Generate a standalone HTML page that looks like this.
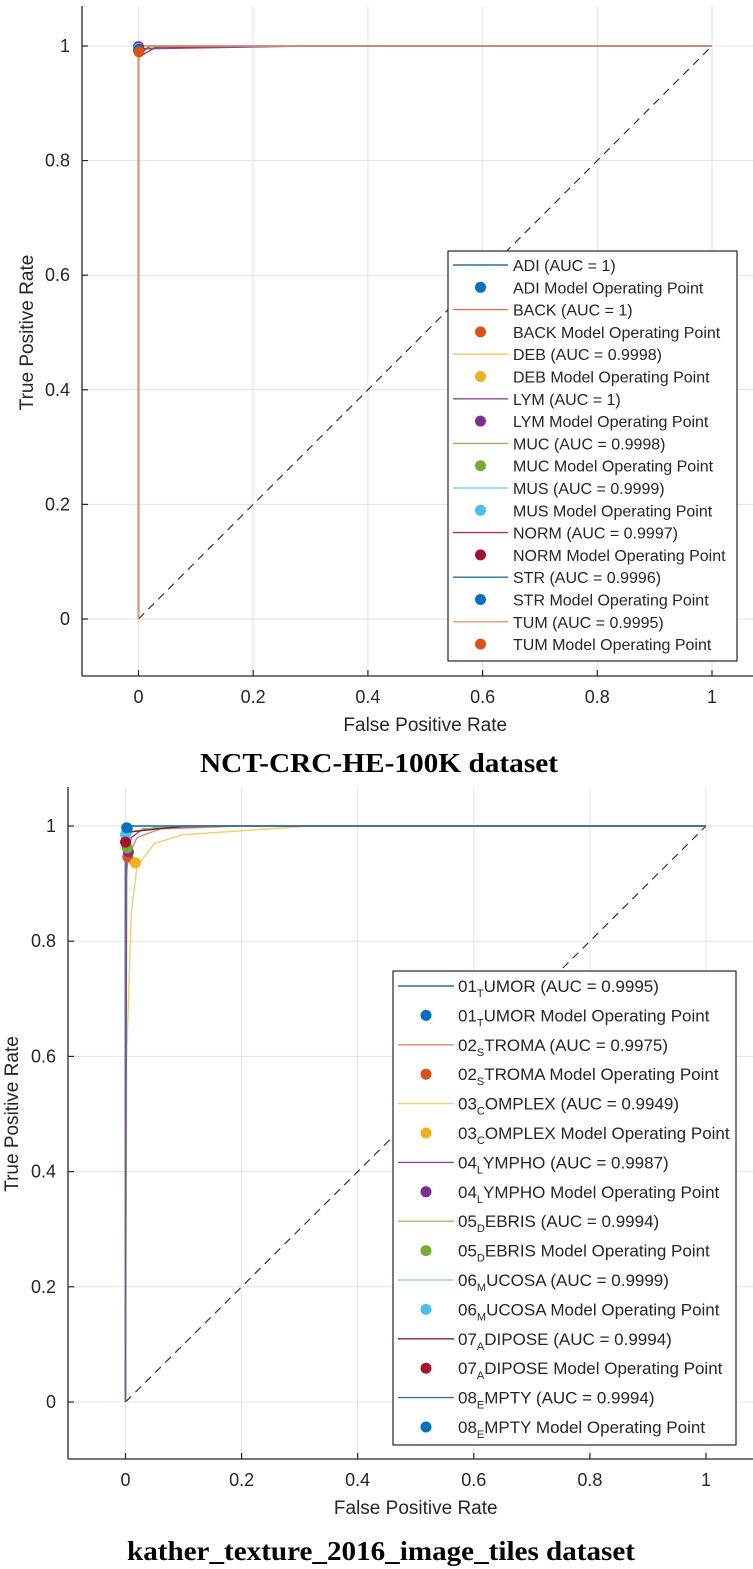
<!DOCTYPE html>
<html><head><meta charset="utf-8">
<style>
html,body{margin:0;padding:0;background:#fff;}
svg{display:block;}
text{font-family:"Liberation Sans",Arial,sans-serif;}
.cap{font-family:"Liberation Serif","Times New Roman",serif;font-weight:bold;}
</style></head>
<body>
<svg id="fig" width="753" height="1569" viewBox="0 0 753 1569" xmlns="http://www.w3.org/2000/svg"></svg>
<script>
// ---------- data: top chart (NCT-CRC-HE-100K) ----------
const topClasses = ["ADI","BACK","DEB","LYM","MUC","MUS","NORM","STR","TUM"];
const topAuc = ["1","1","0.9998","1","0.9998","0.9999","0.9997","0.9996","0.9995"];
const topFpr = [
  [0,0,0.005,1],[0,0,0.01,1],[0,0,0.02,0.32,1],[0,0,0.3,1],[0,0,0.02,1],
  [0,0,0.01,1],[0,0,0.03,0.3,1],[0,0,0.02,1],[0,0,0.01,1]];
const topTpr = [
  [0,0.995,1,1],[0,0.99,1,1],[0,0.985,0.998,1,1],[0,0.995,1,1],[0,0.985,1,1],
  [0,0.99,1,1],[0,0.98,0.998,1,1],[0,0.985,1,1],[0,0.985,1,1]];
const topOpFpr = [0,0,0.001,0,0.001,0,0.001,0,0.001];
const topOpTpr = [0.998,0.997,0.99,0.999,0.992,0.996,0.994,0.993,0.99];

// ---------- data: bottom chart (kather_texture_2016) ----------
const botPrefix = ["01","02","03","04","05","06","07","08"];
const botSub = ["T","S","C","L","D","M","A","E"];
const botRest = ["UMOR","TROMA","OMPLEX","YMPHO","EBRIS","UCOSA","DIPOSE","MPTY"];
const botAuc = ["0.9995","0.9975","0.9949","0.9987","0.9994","0.9999","0.9994","0.9994"];
const botFpr = [
  [0,0,0.01,1],
  [0,0,0.005,0.02,0.06,0.2,1],
  [0,0.002,0.01,0.02,0.05,0.1,0.32,1],
  [0,0.002,0.01,0.03,0.15,1],
  [0,0,0.01,0.05,0.12,1],
  [0,0,0.005,1],
  [0,0,0.01,0.1,1],
  [0,0,0.003,1]];
const botTpr = [
  [0,0.99,1,1],
  [0,0.9,0.95,0.98,0.995,1,1],
  [0,0.6,0.85,0.93,0.97,0.985,1,1],
  [0,0.94,0.98,0.995,1,1],
  [0,0.96,0.99,0.997,1,1],
  [0,0.99,1,1],
  [0,0.97,0.99,1,1],
  [0,0.995,1,1]];
const botOpFpr = [0.003,0.004,0.017,0.005,0.003,0,0,0.002];
const botOpTpr = [0.996,0.946,0.936,0.955,0.962,0.985,0.972,0.997];

const xTicks = [0,0.2,0.4,0.6,0.8,1];
const yTicks = [0,0.2,0.4,0.6,0.8,1];
const xTickLabels = ["0","0.2","0.4","0.6","0.8","1"];
const yTickLabels = ["0","0.2","0.4","0.6","0.8","1"];

const topColors = ["#0072BD","#D95319","#EDB120","#7E2F8E","#77AC30","#4DBEEE","#A2142F","#0072BD","#D95319"];
const botColors = ["#0072BD","#D95319","#EDB120","#7E2F8E","#77AC30","#4DBEEE","#A2142F","#0072BD"];
const lineColorsTop = ["#2a6f9e","#d9794a","#f0c44e","#8b4a98","#8db35a","#86cdee","#a23a4e","#2a6f9e","#e59a73"];
const lineColorsBot = ["#2a6f9e","#dd8a6a","#f2cf6a","#8b4a98","#9ac06c","#9ad6f2","#7b2533","#2a7a9e"];

const NS="http://www.w3.org/2000/svg";
const svg=document.getElementById('fig');
function el(tag,attrs,parent){const e=document.createElementNS(NS,tag);for(const k in attrs)e.setAttribute(k,attrs[k]);(parent||svg).appendChild(e);return e;}

function drawChart(c){
  const g=el('g',{});
  
  
  const sx=v=>c.x0+(c.x1-c.x0)*v;
  const sy=v=>c.y0+(c.y1-c.y0)*v;
  xTicks.forEach(t=>{const l=el('line',{x1:sx(t),x2:sx(t),y1:c.top,y2:c.bottom,stroke:'#e3e3e3','stroke-width':1},g);
    });
  yTicks.forEach(t=>{const l=el('line',{x1:c.left,x2:753,y1:sy(t),y2:sy(t),stroke:'#e3e3e3','stroke-width':1},g);
    });
  const d=el('line',{x1:sx(0),y1:sy(0),x2:sx(1),y2:sy(1),stroke:'#333','stroke-width':1.2,'stroke-dasharray':'8,6'},g);
  
  c.fpr.forEach((fp,i)=>{
    const pts=fp.map((f,j)=>sx(f)+','+sy(c.tpr[i][j])).join(' ');
    const p=el('polyline',{points:pts,fill:'none',stroke:c.lineColors[i],'stroke-width':1.4},g);
    
    
  });
  c.opF.forEach((f,i)=>{
    const m=el('circle',{cx:sx(f),cy:sy(c.opT[i]),r:5.5,fill:c.colors[i]},g);
    
    
  });
  const ax=el('line',{x1:c.left,x2:753,y1:c.bottom,y2:c.bottom,stroke:'#262626','stroke-width':1.3},g);
  
  const ay=el('line',{x1:c.left,x2:c.left,y1:c.top,y2:c.bottom,stroke:'#262626','stroke-width':1.3},g);
  
  xTicks.forEach((t,i)=>{
    el('line',{x1:sx(t),x2:sx(t),y1:c.bottom,y2:c.bottom-6,stroke:'#262626','stroke-width':1.2},g);
    const tx=el('text',{x:sx(t),y:c.bottom+27,'font-size':18,'text-anchor':'middle',fill:'#262626'},g);
    tx.textContent=xTickLabels[i];
    
  });
  yTicks.forEach((t,i)=>{
    el('line',{x1:c.left,x2:c.left+6,y1:sy(t),y2:sy(t),stroke:'#262626','stroke-width':1.2},g);
    const tx=el('text',{x:c.left-12,y:sy(t)+6,'font-size':18,'text-anchor':'end',fill:'#262626'},g);
    tx.textContent=yTickLabels[i];
    
  });
  const xt=el('text',{x:sx(0.5),y:c.bottom+55,'font-size':19,'text-anchor':'middle',fill:'#262626'},g);
  xt.textContent='False Positive Rate';
  
  const ycy=(sy(0)+sy(1))/2;
  const yt=el('text',{x:c.ylx,y:ycy,'font-size':19,'text-anchor':'middle',fill:'#262626',transform:'rotate(-90 '+c.ylx+' '+ycy+')'},g);
  yt.textContent='True Positive Rate';
  
  const lg=el('g',{},g);
  
  el('rect',{x:c.lg.x,y:c.lg.y,width:c.lg.w,height:c.lg.h,fill:'#fff',stroke:'#262626','stroke-width':1.2},lg);
  c.keys.forEach((k,i)=>{
    const y1=c.lg.row0+2*i*c.lg.dy, y2=y1+c.lg.dy;
    const ln=el('line',{x1:c.lg.lx1,x2:c.lg.lx2,y1:y1,y2:y1,stroke:c.lineColors[i],'stroke-width':1.4},lg);
    
    const t1=el('text',{x:c.lg.tx,y:y1+6,'font-size':c.lg.fs,fill:'#262626'},lg);
    c.label(t1,i,' (AUC = '+c.auc[i]+')');
    
    const mk=el('circle',{cx:(c.lg.lx1+c.lg.lx2)/2,cy:y2,r:5.5,fill:c.colors[i]},lg);
    
    const t2=el('text',{x:c.lg.tx,y:y2+6,'font-size':c.lg.fs,fill:'#262626'},lg);
    c.label(t2,i,' Model Operating Point');
    
  });
  const cap=el('text',{x:c.capX,y:c.capY,'font-size':27,'text-anchor':'middle',fill:'#000',class:'cap',textLength:c.capW,lengthAdjust:'spacingAndGlyphs'},g);
  cap.textContent=c.caption;
  
}

drawChart({name:'roc-chart-nct-crc',x0:138.5,x1:712,y0:619,y1:46,left:82,top:6,bottom:676,ylx:33,
  fpr:topFpr,tpr:topTpr,opF:topOpFpr,opT:topOpTpr,keys:topClasses,auc:topAuc,colors:topColors,lineColors:lineColorsTop,
  lg:{x:448,y:251,w:289,h:410,row0:265,dy:22.3,lx1:453,lx2:508,tx:513,fs:16},
  label:(t,i,s)=>{t.textContent=topClasses[i]+s;},
  caption:'NCT-CRC-HE-100K dataset',capX:379,capY:772,capW:358});

drawChart({name:'roc-chart-kather',x0:125.5,x1:706,y0:1402,y1:826,left:68,top:787,bottom:1459,ylx:18,
  fpr:botFpr,tpr:botTpr,opF:botOpFpr,opT:botOpTpr,keys:botRest,auc:botAuc,colors:botColors,lineColors:lineColorsBot,
  lg:{x:393,y:971,w:343,h:474,row0:986,dy:29.4,lx1:398,lx2:454,tx:458,fs:17},
  label:(t,i,s)=>{
    const a=document.createElementNS(NS,'tspan');a.textContent=botPrefix[i];t.appendChild(a);
    const b=document.createElementNS(NS,'tspan');b.setAttribute('dy','5');b.setAttribute('font-size','11');b.textContent=botSub[i];t.appendChild(b);
    const c2=document.createElementNS(NS,'tspan');c2.setAttribute('dy','-5');c2.textContent=botRest[i]+s;t.appendChild(c2);
  },
  caption:'kather_texture_2016_image_tiles dataset',capX:381,capY:1560,capW:508});
</script>
</body></html>
